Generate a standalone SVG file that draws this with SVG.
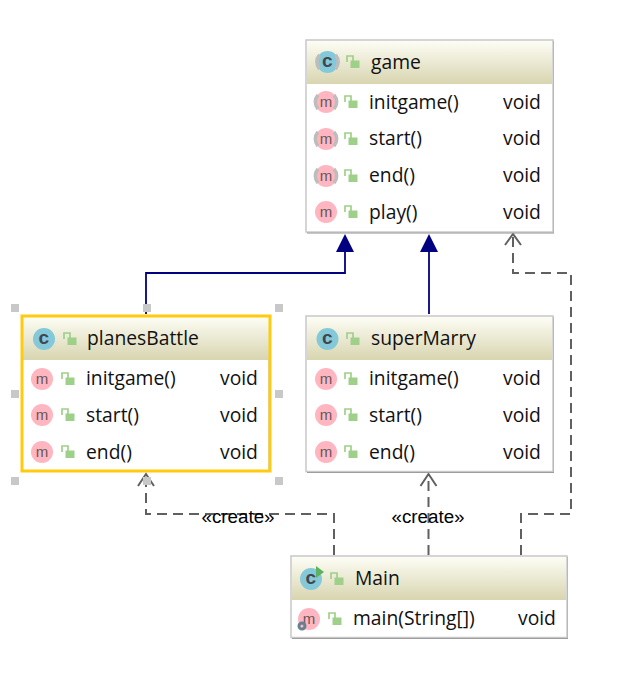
<svg xmlns="http://www.w3.org/2000/svg" width="634" height="682" viewBox="0 0 634 682">
<style>
text{font-family:"Open Sans","Noto Sans","Liberation Sans",sans-serif;font-size:19.300px;fill:#111}
.box{fill:#fff;stroke:#c8c8c8;stroke-width:1.500}
.shadow{fill:#8f8f8f}
.sel{fill:none;stroke:#ffcb0f;stroke-width:3}
.ic{fill:#84c9da}.im{fill:#ffb6c1}
text.lt{font-size:19px;font-weight:700;fill:#45454d;font-family:"Liberation Mono",monospace}
text.lm{font-size:15px;fill:#66585c;font-family:"Liberation Sans",sans-serif}
.sq{fill:#c8c8c8}
.sol{fill:none;stroke:#000080;stroke-width:1.800}
.tri{fill:#000080}
.dash{fill:none;stroke:#606060;stroke-width:2;stroke-dasharray:10 6}
.open{fill:none;stroke:#606060;stroke-width:2}
text.lab{font-family:"Liberation Sans",sans-serif;font-size:18.800px;fill:#000}
.lk{fill:none;stroke:#9fd08a;stroke-width:1.700}
.lf{fill:#9fd08a}
</style>
<defs>
<linearGradient id="hd" x1="0" y1="0" x2="0" y2="1"><stop offset="0" stop-color="#fdfdf5"/><stop offset="1" stop-color="#d8d5b0"/></linearGradient>
<g id="lock"><path class="lk" d="M-6 0V-6H0V-1"/><rect class="lf" x="-2.500" y="-1.500" width="9" height="7.500"/></g>
<g id="cI"><circle class="ic" r="11"/><text class="lt" x="0" y="5" text-anchor="middle">c</text></g>
<g id="mI"><circle class="im" r="11"/><text class="lm" x="0" y="5" text-anchor="middle">m</text></g>
<g id="ab"><path d="M-8-7A10.500 10.500 0 0 0-8 7M8-7A10.500 10.500 0 0 1 8 7" fill="none" stroke="#bdbdbd" stroke-width="3.500"/></g>
</defs>

<g id="connectors">
<path class="sol" d="M146 314V273H345V250"/>
<path class="tri" d="M345 234L354 252H336Z"/>
<path class="sol" d="M429 314V250"/>
<path class="tri" d="M429 234L438 252H420Z"/>
<path class="dash" d="M521 555V514H571V273H513V236"/>
<path class="open" d="M505 245L513 234L521 245"/>
<path class="dash" d="M334 555V514H146V476"/>
<path class="open" d="M138 486L146 474L154 486"/>
<path class="dash" d="M428.500 555V476"/>
<path class="open" d="M420.500 486L428.500 474L436.500 486"/>
<text class="lab" x="238" y="523" text-anchor="middle">«create»</text>
<text class="lab" x="428" y="523" text-anchor="middle">«create»</text>
</g>

<g id="game">
<rect class="shadow" x="307" y="41" width="247" height="192.500"/>
<rect class="box" x="306" y="40" width="247" height="192"/>
<rect x="307" y="41" width="245" height="43" fill="url(#hd)"/>
<use href="#cI" x="327.500" y="62"/><use href="#ab" x="327.500" y="62"/><use href="#lock" x="353" y="62"/>
<text x="371" y="69">game</text>
<use href="#mI" x="326" y="102"/><use href="#ab" x="326" y="102"/><use href="#lock" x="351" y="102"/>
<text x="369" y="109">initgame()</text><text x="503" y="109">void</text>
<use href="#mI" x="326" y="139"/><use href="#ab" x="326" y="139"/><use href="#lock" x="351" y="139"/>
<text x="369" y="145">start()</text><text x="503" y="145">void</text>
<use href="#mI" x="326" y="176"/><use href="#ab" x="326" y="176"/><use href="#lock" x="351" y="176"/>
<text x="369" y="182">end()</text><text x="503" y="182">void</text>
<use href="#mI" x="326" y="212"/><use href="#lock" x="351" y="212"/>
<text x="369" y="219">play()</text><text x="503" y="219">void</text>
</g>

<g id="planesBattle">
<rect class="box" x="22" y="316" width="247" height="155"/>
<rect x="23" y="317" width="246" height="43" fill="url(#hd)"/>
<use href="#cI" x="44" y="339"/><use href="#lock" x="70" y="339"/>
<text x="87" y="345">planesBattle</text>
<use href="#mI" x="42" y="379"/><use href="#lock" x="68" y="379"/>
<text x="86" y="385">initgame()</text><text x="220" y="385">void</text>
<use href="#mI" x="42" y="415"/><use href="#lock" x="68" y="415"/>
<text x="86" y="422">start()</text><text x="220" y="422">void</text>
<use href="#mI" x="42" y="452"/><use href="#lock" x="68" y="452"/>
<text x="86" y="459">end()</text><text x="220" y="459">void</text>
<rect class="sel" x="22" y="316" width="248" height="155"/>
<rect class="sq" x="11" y="304" width="8" height="8"/><rect class="sq" x="143" y="304" width="8" height="8"/><rect class="sq" x="275" y="304" width="8" height="8"/>
<rect class="sq" x="11" y="390" width="8" height="8"/><rect class="sq" x="275" y="390" width="8" height="8"/>
<rect class="sq" x="11" y="477" width="8" height="8"/><rect class="sq" x="143" y="477" width="8" height="8"/><rect class="sq" x="275" y="477" width="8" height="8"/>
</g>

<g id="superMarry">
<rect class="shadow" x="307" y="317" width="247" height="156"/>
<rect class="box" x="306" y="316" width="247" height="155.500"/>
<rect x="307" y="317" width="245" height="43" fill="url(#hd)"/>
<use href="#cI" x="327.500" y="339"/><use href="#lock" x="353" y="339"/>
<text x="371" y="345">superMarry</text>
<use href="#mI" x="326" y="379"/><use href="#lock" x="351" y="379"/>
<text x="369" y="385">initgame()</text><text x="503" y="385">void</text>
<use href="#mI" x="326" y="415"/><use href="#lock" x="351" y="415"/>
<text x="369" y="422">start()</text><text x="503" y="422">void</text>
<use href="#mI" x="326" y="452"/><use href="#lock" x="351" y="452"/>
<text x="369" y="459">end()</text><text x="503" y="459">void</text>
</g>

<g id="Main">
<rect class="shadow" x="292" y="557" width="276" height="82"/>
<rect class="box" x="291" y="556" width="276" height="81.500"/>
<rect x="292" y="557" width="274" height="43" fill="url(#hd)"/>
<use href="#cI" x="311" y="579"/><path d="M316 566L324 572L316 578Z" fill="#5db35d"/><use href="#lock" x="337" y="579"/>
<text x="355" y="585">Main</text>
<use href="#mI" x="309" y="619"/><circle cx="302" cy="626" r="3" fill="none" stroke="#66808f" stroke-width="3"/><use href="#lock" x="335" y="619"/>
<text x="353" y="625">main(String[])</text><text x="518" y="625">void</text>
</g>
</svg>
